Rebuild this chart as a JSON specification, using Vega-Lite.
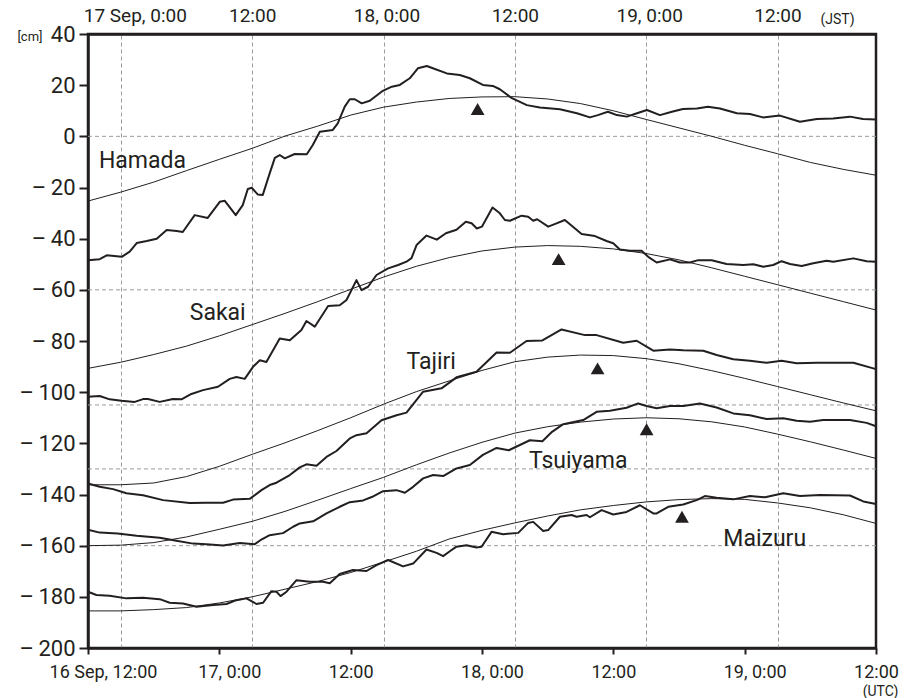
{
"$schema": "https://vega.github.io/schema/vega-lite/v6.json",
"width": 788, "height": 614,
"autosize": "none",
"padding": {"left": 88, "top": 34, "right": 29, "bottom": 50},
"background": "white",
"config": {"view": {"stroke": "#231f20", "strokeWidth": 2.5}, "font": "Roboto"},
"datasets": {
"ref": [{"v": 0}, {"v": -60}, {"v": -105}, {"v": -130}, {"v": -160}],
"tri": [{"s": "Hamada", "h": 35.6, "v": 10.7}, {"s": "Sakai", "h": 43.0, "v": -48}, {"s": "Tajiri", "h": 46.56, "v": -90.7}, {"s": "Tsuiyama", "h": 51.04, "v": -114.5}, {"s": "Maizuru", "h": 54.27, "v": -148.7}],
"lab": [{"s": "Hamada", "h": 1.0, "v": -12.4}, {"s": "Sakai", "h": 9.3, "v": -71.8}, {"s": "Tajiri", "h": 29.1, "v": -91.1}, {"s": "Tsuiyama", "h": 40.3, "v": -129.6}, {"s": "Maizuru", "h": 58.05, "v": -160.2}],
"fit": [
{"s":"Hamada","h":0,"v":-25.3},{"s":"Hamada","h":3,"v":-21.8},{"s":"Hamada","h":6,"v":-17.9},{"s":"Hamada","h":9,"v":-13.4},{"s":"Hamada","h":12,"v":-9},{"s":"Hamada","h":15,"v":-4.7},{"s":"Hamada","h":18,"v":0.1},{"s":"Hamada","h":21,"v":4},{"s":"Hamada","h":24,"v":8.3},{"s":"Hamada","h":27,"v":11.4},{"s":"Hamada","h":30,"v":13.4},{"s":"Hamada","h":33,"v":14.8},{"s":"Hamada","h":36,"v":15.4},{"s":"Hamada","h":39,"v":15.5},{"s":"Hamada","h":42,"v":14.6},{"s":"Hamada","h":45,"v":12.8},{"s":"Hamada","h":48,"v":10},{"s":"Hamada","h":51,"v":6.6},{"s":"Hamada","h":54,"v":3.3},{"s":"Hamada","h":57,"v":0},{"s":"Hamada","h":60,"v":-3.5},{"s":"Hamada","h":63,"v":-6.8},{"s":"Hamada","h":66,"v":-10.2},{"s":"Hamada","h":69,"v":-12.9},{"s":"Hamada","h":72,"v":-15.2},
{"s":"Sakai","h":0,"v":-90.7},{"s":"Sakai","h":3,"v":-88.3},{"s":"Sakai","h":6,"v":-85.3},{"s":"Sakai","h":9,"v":-82},{"s":"Sakai","h":12,"v":-78},{"s":"Sakai","h":15,"v":-73.6},{"s":"Sakai","h":18,"v":-69.2},{"s":"Sakai","h":21,"v":-64.6},{"s":"Sakai","h":24,"v":-59.8},{"s":"Sakai","h":27,"v":-55},{"s":"Sakai","h":30,"v":-50.8},{"s":"Sakai","h":33,"v":-47.4},{"s":"Sakai","h":36,"v":-44.8},{"s":"Sakai","h":39,"v":-43.3},{"s":"Sakai","h":42,"v":-42.7},{"s":"Sakai","h":45,"v":-43},{"s":"Sakai","h":48,"v":-44},{"s":"Sakai","h":51,"v":-45.8},{"s":"Sakai","h":54,"v":-48.3},{"s":"Sakai","h":57,"v":-51.4},{"s":"Sakai","h":60,"v":-54.7},{"s":"Sakai","h":63,"v":-58},{"s":"Sakai","h":66,"v":-61.3},{"s":"Sakai","h":69,"v":-64.6},{"s":"Sakai","h":72,"v":-67.9},
{"s":"Tajiri","h":0,"v":-136.2},{"s":"Tajiri","h":3,"v":-136.2},{"s":"Tajiri","h":6,"v":-135.5},{"s":"Tajiri","h":9,"v":-133},{"s":"Tajiri","h":12,"v":-129},{"s":"Tajiri","h":15,"v":-124.3},{"s":"Tajiri","h":18,"v":-119.8},{"s":"Tajiri","h":21,"v":-115},{"s":"Tajiri","h":24,"v":-110},{"s":"Tajiri","h":27,"v":-104.7},{"s":"Tajiri","h":30,"v":-99.8},{"s":"Tajiri","h":33,"v":-95.6},{"s":"Tajiri","h":36,"v":-91.5},{"s":"Tajiri","h":39,"v":-88.1},{"s":"Tajiri","h":42,"v":-86.3},{"s":"Tajiri","h":45,"v":-85.5},{"s":"Tajiri","h":48,"v":-85.7},{"s":"Tajiri","h":51,"v":-86.9},{"s":"Tajiri","h":54,"v":-88.9},{"s":"Tajiri","h":57,"v":-91.6},{"s":"Tajiri","h":60,"v":-94.6},{"s":"Tajiri","h":63,"v":-97.8},{"s":"Tajiri","h":66,"v":-101},{"s":"Tajiri","h":69,"v":-104.2},{"s":"Tajiri","h":72,"v":-107.3},
{"s":"Tsuiyama","h":0,"v":-160},{"s":"Tsuiyama","h":3,"v":-159.8},{"s":"Tsuiyama","h":6,"v":-158.8},{"s":"Tsuiyama","h":9,"v":-156.6},{"s":"Tsuiyama","h":12,"v":-153.6},{"s":"Tsuiyama","h":15,"v":-150.5},{"s":"Tsuiyama","h":18,"v":-146.6},{"s":"Tsuiyama","h":21,"v":-142.2},{"s":"Tsuiyama","h":24,"v":-137.7},{"s":"Tsuiyama","h":27,"v":-133.3},{"s":"Tsuiyama","h":30,"v":-128.4},{"s":"Tsuiyama","h":33,"v":-123.8},{"s":"Tsuiyama","h":36,"v":-119.6},{"s":"Tsuiyama","h":39,"v":-116},{"s":"Tsuiyama","h":42,"v":-113.5},{"s":"Tsuiyama","h":45,"v":-111.7},{"s":"Tsuiyama","h":48,"v":-110.5},{"s":"Tsuiyama","h":51,"v":-110},{"s":"Tsuiyama","h":54,"v":-110.4},{"s":"Tsuiyama","h":57,"v":-111.6},{"s":"Tsuiyama","h":60,"v":-113.6},{"s":"Tsuiyama","h":63,"v":-116.4},{"s":"Tsuiyama","h":66,"v":-119.4},{"s":"Tsuiyama","h":69,"v":-122.6},{"s":"Tsuiyama","h":72,"v":-125.9},
{"s":"Maizuru","h":0,"v":-185.5},{"s":"Maizuru","h":3,"v":-185.5},{"s":"Maizuru","h":6,"v":-185},{"s":"Maizuru","h":9,"v":-184.2},{"s":"Maizuru","h":12,"v":-182.4},{"s":"Maizuru","h":15,"v":-180},{"s":"Maizuru","h":18,"v":-177},{"s":"Maizuru","h":21,"v":-174},{"s":"Maizuru","h":24,"v":-170.5},{"s":"Maizuru","h":27,"v":-166.4},{"s":"Maizuru","h":30,"v":-162.2},{"s":"Maizuru","h":33,"v":-157.4},{"s":"Maizuru","h":36,"v":-154},{"s":"Maizuru","h":39,"v":-151.1},{"s":"Maizuru","h":42,"v":-148.4},{"s":"Maizuru","h":45,"v":-146},{"s":"Maizuru","h":48,"v":-144.3},{"s":"Maizuru","h":51,"v":-142.9},{"s":"Maizuru","h":54,"v":-142},{"s":"Maizuru","h":57,"v":-141.6},{"s":"Maizuru","h":60,"v":-141.9},{"s":"Maizuru","h":63,"v":-143.3},{"s":"Maizuru","h":66,"v":-145.2},{"s":"Maizuru","h":69,"v":-147.9},{"s":"Maizuru","h":72,"v":-151.3}
],
"obs": [
{"s":"Hamada","h":0,"v":-48.4},{"s":"Hamada","h":1.07,"v":-48},{"s":"Hamada","h":1.71,"v":-46.5},{"s":"Hamada","h":2.62,"v":-46.9},{"s":"Hamada","h":3.08,"v":-47.1},{"s":"Hamada","h":3.81,"v":-45.1},{"s":"Hamada","h":4.45,"v":-41.7},{"s":"Hamada","h":5.37,"v":-40.9},{"s":"Hamada","h":6.28,"v":-40},{"s":"Hamada","h":7.19,"v":-36.6},{"s":"Hamada","h":8.11,"v":-37},{"s":"Hamada","h":8.66,"v":-37.4},{"s":"Hamada","h":9.75,"v":-30.8},{"s":"Hamada","h":10.94,"v":-31.9},{"s":"Hamada","h":12.04,"v":-25.6},{"s":"Hamada","h":12.5,"v":-25.2},{"s":"Hamada","h":13.5,"v":-30.8},{"s":"Hamada","h":14.14,"v":-26.9},{"s":"Hamada","h":14.6,"v":-20.6},{"s":"Hamada","h":14.96,"v":-20.1},{"s":"Hamada","h":15.5,"v":-22.7},{"s":"Hamada","h":15.97,"v":-22.9},{"s":"Hamada","h":16.6,"v":-14.5},{"s":"Hamada","h":17.07,"v":-8.4},{"s":"Hamada","h":17.52,"v":-7.3},{"s":"Hamada","h":17.98,"v":-8.6},{"s":"Hamada","h":18.89,"v":-6.9},{"s":"Hamada","h":19.99,"v":-7},{"s":"Hamada","h":20.54,"v":-3.4},{"s":"Hamada","h":21.18,"v":1.8},{"s":"Hamada","h":22.37,"v":2.5},{"s":"Hamada","h":22.82,"v":5.1},{"s":"Hamada","h":23.46,"v":11.6},{"s":"Hamada","h":23.92,"v":14.5},{"s":"Hamada","h":24.38,"v":14.5},{"s":"Hamada","h":25.01,"v":12.9},{"s":"Hamada","h":25.75,"v":13.9},{"s":"Hamada","h":26.94,"v":17.8},{"s":"Hamada","h":27.76,"v":19.4},{"s":"Hamada","h":28.49,"v":20.1},{"s":"Hamada","h":29.4,"v":22.7},{"s":"Hamada","h":30.14,"v":26.6},{"s":"Hamada","h":30.96,"v":27.5},{"s":"Hamada","h":31.51,"v":26.6},{"s":"Hamada","h":32.79,"v":24.6},{"s":"Hamada","h":33.97,"v":24},{"s":"Hamada","h":34.89,"v":22.7},{"s":"Hamada","h":36.08,"v":20.1},{"s":"Hamada","h":36.99,"v":19.7},{"s":"Hamada","h":37.63,"v":18.4},{"s":"Hamada","h":38.73,"v":14.9},{"s":"Hamada","h":40.1,"v":12.2},{"s":"Hamada","h":41.29,"v":11.3},{"s":"Hamada","h":43.12,"v":10.6},{"s":"Hamada","h":44.67,"v":9},{"s":"Hamada","h":45.86,"v":7.4},{"s":"Hamada","h":46.59,"v":8.3},{"s":"Hamada","h":47.5,"v":9.6},{"s":"Hamada","h":48.33,"v":8.3},{"s":"Hamada","h":49.24,"v":7.7},{"s":"Hamada","h":50.16,"v":9},{"s":"Hamada","h":51.07,"v":10.3},{"s":"Hamada","h":52.26,"v":8.3},{"s":"Hamada","h":53.35,"v":9.6},{"s":"Hamada","h":54.36,"v":10.7},{"s":"Hamada","h":55.64,"v":10.9},{"s":"Hamada","h":56.64,"v":11.6},{"s":"Hamada","h":57.74,"v":10.9},{"s":"Hamada","h":59.29,"v":9},{"s":"Hamada","h":60.48,"v":8.7},{"s":"Hamada","h":61.67,"v":7.4},{"s":"Hamada","h":63.22,"v":8.1},{"s":"Hamada","h":65.05,"v":5.7},{"s":"Hamada","h":66.6,"v":6.8},{"s":"Hamada","h":68.07,"v":7},{"s":"Hamada","h":69.62,"v":7.7},{"s":"Hamada","h":70.81,"v":6.8},{"s":"Hamada","h":72,"v":6.6},
{"s":"Sakai","h":0,"v":-101.8},{"s":"Sakai","h":1.07,"v":-101.5},{"s":"Sakai","h":1.98,"v":-102.8},{"s":"Sakai","h":3.05,"v":-103.4},{"s":"Sakai","h":4.27,"v":-103.8},{"s":"Sakai","h":5.03,"v":-102.7},{"s":"Sakai","h":5.48,"v":-102.7},{"s":"Sakai","h":6.55,"v":-103.8},{"s":"Sakai","h":7.77,"v":-102.7},{"s":"Sakai","h":8.54,"v":-102.8},{"s":"Sakai","h":9.45,"v":-100.7},{"s":"Sakai","h":10.51,"v":-99.2},{"s":"Sakai","h":11.88,"v":-97.9},{"s":"Sakai","h":12.95,"v":-94.8},{"s":"Sakai","h":13.56,"v":-94.1},{"s":"Sakai","h":14.32,"v":-94.8},{"s":"Sakai","h":15.08,"v":-90.1},{"s":"Sakai","h":15.7,"v":-87.5},{"s":"Sakai","h":16.3,"v":-88.2},{"s":"Sakai","h":17.52,"v":-79},{"s":"Sakai","h":18.44,"v":-79.7},{"s":"Sakai","h":19.5,"v":-75.7},{"s":"Sakai","h":19.96,"v":-72.2},{"s":"Sakai","h":20.72,"v":-74.4},{"s":"Sakai","h":21.94,"v":-66.3},{"s":"Sakai","h":23,"v":-66},{"s":"Sakai","h":23.62,"v":-64},{"s":"Sakai","h":24.53,"v":-56.2},{"s":"Sakai","h":24.99,"v":-60.1},{"s":"Sakai","h":25.59,"v":-58.8},{"s":"Sakai","h":26.36,"v":-54.2},{"s":"Sakai","h":27.42,"v":-51.6},{"s":"Sakai","h":28.34,"v":-50.3},{"s":"Sakai","h":29.1,"v":-49},{"s":"Sakai","h":29.56,"v":-47.6},{"s":"Sakai","h":30.02,"v":-42.5},{"s":"Sakai","h":30.93,"v":-38.8},{"s":"Sakai","h":31.87,"v":-40.4},{"s":"Sakai","h":32.7,"v":-37.9},{"s":"Sakai","h":33.67,"v":-36.5},{"s":"Sakai","h":34.52,"v":-33.4},{"s":"Sakai","h":35.05,"v":-34},{"s":"Sakai","h":35.53,"v":-36},{"s":"Sakai","h":35.99,"v":-35.3},{"s":"Sakai","h":36.96,"v":-27.8},{"s":"Sakai","h":37.63,"v":-30.1},{"s":"Sakai","h":38.09,"v":-32.7},{"s":"Sakai","h":38.55,"v":-33},{"s":"Sakai","h":39.62,"v":-31},{"s":"Sakai","h":40.22,"v":-31.4},{"s":"Sakai","h":40.68,"v":-33},{"s":"Sakai","h":41.04,"v":-32.4},{"s":"Sakai","h":42.05,"v":-35.3},{"s":"Sakai","h":42.81,"v":-34},{"s":"Sakai","h":43.57,"v":-32.7},{"s":"Sakai","h":45.1,"v":-38.2},{"s":"Sakai","h":46.32,"v":-39},{"s":"Sakai","h":47.38,"v":-40.9},{"s":"Sakai","h":47.99,"v":-41.8},{"s":"Sakai","h":48.6,"v":-44.2},{"s":"Sakai","h":49.52,"v":-44.7},{"s":"Sakai","h":50.58,"v":-44.7},{"s":"Sakai","h":51.19,"v":-47.1},{"s":"Sakai","h":51.96,"v":-49.3},{"s":"Sakai","h":53.17,"v":-48.1},{"s":"Sakai","h":54.09,"v":-49.3},{"s":"Sakai","h":55,"v":-49.3},{"s":"Sakai","h":55.76,"v":-48.4},{"s":"Sakai","h":56.98,"v":-48.4},{"s":"Sakai","h":58.35,"v":-49.9},{"s":"Sakai","h":59.87,"v":-50.3},{"s":"Sakai","h":60.79,"v":-50},{"s":"Sakai","h":61.7,"v":-51},{"s":"Sakai","h":62.61,"v":-50.3},{"s":"Sakai","h":63.38,"v":-48.8},{"s":"Sakai","h":64.14,"v":-49.9},{"s":"Sakai","h":65.21,"v":-50.7},{"s":"Sakai","h":66.27,"v":-49.6},{"s":"Sakai","h":67.49,"v":-48.6},{"s":"Sakai","h":68.1,"v":-49},{"s":"Sakai","h":69.93,"v":-47.7},{"s":"Sakai","h":71.15,"v":-48.8},{"s":"Sakai","h":72,"v":-49},
{"s":"Tajiri","h":0,"v":-135.7},{"s":"Tajiri","h":1.07,"v":-137},{"s":"Tajiri","h":2.29,"v":-137.9},{"s":"Tajiri","h":3.51,"v":-139.5},{"s":"Tajiri","h":5.03,"v":-140.3},{"s":"Tajiri","h":6.86,"v":-142.2},{"s":"Tajiri","h":9.3,"v":-143.3},{"s":"Tajiri","h":10.82,"v":-143.2},{"s":"Tajiri","h":12.34,"v":-143.2},{"s":"Tajiri","h":13.25,"v":-142},{"s":"Tajiri","h":14.78,"v":-141.7},{"s":"Tajiri","h":15.85,"v":-138.3},{"s":"Tajiri","h":16.6,"v":-136.3},{"s":"Tajiri","h":17.22,"v":-135.4},{"s":"Tajiri","h":18.44,"v":-132.4},{"s":"Tajiri","h":19.35,"v":-129.4},{"s":"Tajiri","h":19.96,"v":-128.2},{"s":"Tajiri","h":20.88,"v":-128.8},{"s":"Tajiri","h":21.79,"v":-125.3},{"s":"Tajiri","h":22.7,"v":-123},{"s":"Tajiri","h":23.92,"v":-118.1},{"s":"Tajiri","h":24.53,"v":-116.8},{"s":"Tajiri","h":25.45,"v":-116.1},{"s":"Tajiri","h":26.82,"v":-111},{"s":"Tajiri","h":28.19,"v":-109},{"s":"Tajiri","h":29.1,"v":-108},{"s":"Tajiri","h":30.62,"v":-99.8},{"s":"Tajiri","h":32.3,"v":-98.5},{"s":"Tajiri","h":33.67,"v":-94.2},{"s":"Tajiri","h":35.5,"v":-92},{"s":"Tajiri","h":37.33,"v":-84.5},{"s":"Tajiri","h":38.55,"v":-84.6},{"s":"Tajiri","h":40.07,"v":-80},{"s":"Tajiri","h":41.52,"v":-79.8},{"s":"Tajiri","h":43.27,"v":-75.5},{"s":"Tajiri","h":45.4,"v":-77.7},{"s":"Tajiri","h":46.47,"v":-77.7},{"s":"Tajiri","h":48.9,"v":-80.7},{"s":"Tajiri","h":50.13,"v":-79.9},{"s":"Tajiri","h":51.65,"v":-83.8},{"s":"Tajiri","h":53.17,"v":-83.3},{"s":"Tajiri","h":54.39,"v":-83.6},{"s":"Tajiri","h":56.22,"v":-83.8},{"s":"Tajiri","h":57.44,"v":-85.5},{"s":"Tajiri","h":58.96,"v":-87.1},{"s":"Tajiri","h":60.48,"v":-87.7},{"s":"Tajiri","h":62.01,"v":-88.5},{"s":"Tajiri","h":63.38,"v":-87.7},{"s":"Tajiri","h":64.75,"v":-88.7},{"s":"Tajiri","h":66.58,"v":-88.5},{"s":"Tajiri","h":69.93,"v":-88.5},{"s":"Tajiri","h":72,"v":-91},
{"s":"Tsuiyama","h":0,"v":-153.8},{"s":"Tsuiyama","h":1.07,"v":-154.9},{"s":"Tsuiyama","h":2.71,"v":-155.2},{"s":"Tsuiyama","h":4.45,"v":-156.1},{"s":"Tsuiyama","h":6.55,"v":-156.9},{"s":"Tsuiyama","h":8.08,"v":-158.1},{"s":"Tsuiyama","h":9.6,"v":-159.2},{"s":"Tsuiyama","h":10.82,"v":-159.4},{"s":"Tsuiyama","h":12.34,"v":-159.9},{"s":"Tsuiyama","h":13.87,"v":-159},{"s":"Tsuiyama","h":15.24,"v":-159.4},{"s":"Tsuiyama","h":15.88,"v":-157.5},{"s":"Tsuiyama","h":16.6,"v":-155.9},{"s":"Tsuiyama","h":17.82,"v":-155.1},{"s":"Tsuiyama","h":18.74,"v":-152.6},{"s":"Tsuiyama","h":19.35,"v":-151.3},{"s":"Tsuiyama","h":20.57,"v":-150.5},{"s":"Tsuiyama","h":21.79,"v":-147.4},{"s":"Tsuiyama","h":23,"v":-144.8},{"s":"Tsuiyama","h":23.92,"v":-143},{"s":"Tsuiyama","h":25.14,"v":-142.3},{"s":"Tsuiyama","h":25.93,"v":-141},{"s":"Tsuiyama","h":26.96,"v":-138.7},{"s":"Tsuiyama","h":28.19,"v":-138.3},{"s":"Tsuiyama","h":28.95,"v":-139.3},{"s":"Tsuiyama","h":29.71,"v":-137},{"s":"Tsuiyama","h":30.62,"v":-133.7},{"s":"Tsuiyama","h":31.54,"v":-132.4},{"s":"Tsuiyama","h":32.45,"v":-132.8},{"s":"Tsuiyama","h":33.67,"v":-129.8},{"s":"Tsuiyama","h":34.89,"v":-128.5},{"s":"Tsuiyama","h":36.08,"v":-124.5},{"s":"Tsuiyama","h":37.33,"v":-121.8},{"s":"Tsuiyama","h":38.45,"v":-122.7},{"s":"Tsuiyama","h":40.37,"v":-118.8},{"s":"Tsuiyama","h":41.52,"v":-119.2},{"s":"Tsuiyama","h":42.4,"v":-115.5},{"s":"Tsuiyama","h":43.42,"v":-112.5},{"s":"Tsuiyama","h":45.25,"v":-110.9},{"s":"Tsuiyama","h":46.47,"v":-107.7},{"s":"Tsuiyama","h":47.69,"v":-107.3},{"s":"Tsuiyama","h":49.21,"v":-106.1},{"s":"Tsuiyama","h":50.27,"v":-104.4},{"s":"Tsuiyama","h":51.04,"v":-105.4},{"s":"Tsuiyama","h":51.96,"v":-106.3},{"s":"Tsuiyama","h":53.17,"v":-105.4},{"s":"Tsuiyama","h":54.39,"v":-105.4},{"s":"Tsuiyama","h":55.91,"v":-104.4},{"s":"Tsuiyama","h":57.44,"v":-106},{"s":"Tsuiyama","h":58.96,"v":-108.3},{"s":"Tsuiyama","h":60.48,"v":-109},{"s":"Tsuiyama","h":62.01,"v":-110.5},{"s":"Tsuiyama","h":63.53,"v":-110.2},{"s":"Tsuiyama","h":64.75,"v":-111.2},{"s":"Tsuiyama","h":65.97,"v":-111.6},{"s":"Tsuiyama","h":67.18,"v":-110.9},{"s":"Tsuiyama","h":69.62,"v":-110.9},{"s":"Tsuiyama","h":71.15,"v":-112},{"s":"Tsuiyama","h":72,"v":-113.3},
{"s":"Maizuru","h":0,"v":-178},{"s":"Maizuru","h":0.77,"v":-179.3},{"s":"Maizuru","h":1.98,"v":-179.6},{"s":"Maizuru","h":3.51,"v":-180.6},{"s":"Maizuru","h":5.03,"v":-180.4},{"s":"Maizuru","h":6.55,"v":-180.9},{"s":"Maizuru","h":7.47,"v":-182.3},{"s":"Maizuru","h":8.68,"v":-182.6},{"s":"Maizuru","h":9.91,"v":-183.9},{"s":"Maizuru","h":11.43,"v":-183.2},{"s":"Maizuru","h":12.65,"v":-182.8},{"s":"Maizuru","h":13.56,"v":-181.3},{"s":"Maizuru","h":14.48,"v":-180.6},{"s":"Maizuru","h":15.39,"v":-182.8},{"s":"Maizuru","h":16,"v":-182.3},{"s":"Maizuru","h":16.76,"v":-177.8},{"s":"Maizuru","h":17.22,"v":-178},{"s":"Maizuru","h":17.59,"v":-179.7},{"s":"Maizuru","h":18.14,"v":-178},{"s":"Maizuru","h":19.05,"v":-173.5},{"s":"Maizuru","h":20.27,"v":-174.1},{"s":"Maizuru","h":21.48,"v":-174.1},{"s":"Maizuru","h":22.09,"v":-174.7},{"s":"Maizuru","h":23,"v":-171.1},{"s":"Maizuru","h":24.22,"v":-169.5},{"s":"Maizuru","h":25.45,"v":-169.9},{"s":"Maizuru","h":26.36,"v":-167.6},{"s":"Maizuru","h":27.42,"v":-165.6},{"s":"Maizuru","h":28.79,"v":-168.1},{"s":"Maizuru","h":29.71,"v":-167},{"s":"Maizuru","h":30.93,"v":-161.5},{"s":"Maizuru","h":31.85,"v":-162.8},{"s":"Maizuru","h":32.45,"v":-164.1},{"s":"Maizuru","h":33.06,"v":-162.2},{"s":"Maizuru","h":33.67,"v":-160.4},{"s":"Maizuru","h":34.59,"v":-159.8},{"s":"Maizuru","h":35.5,"v":-160.7},{"s":"Maizuru","h":35.96,"v":-160.4},{"s":"Maizuru","h":36.87,"v":-154.6},{"s":"Maizuru","h":37.93,"v":-155.5},{"s":"Maizuru","h":39.31,"v":-155},{"s":"Maizuru","h":40.22,"v":-151.1},{"s":"Maizuru","h":40.68,"v":-150.7},{"s":"Maizuru","h":41.59,"v":-154.3},{"s":"Maizuru","h":42.05,"v":-153.9},{"s":"Maizuru","h":43.12,"v":-148.7},{"s":"Maizuru","h":44.19,"v":-148},{"s":"Maizuru","h":44.64,"v":-148.7},{"s":"Maizuru","h":45.56,"v":-148},{"s":"Maizuru","h":45.86,"v":-148.9},{"s":"Maizuru","h":46.93,"v":-146.1},{"s":"Maizuru","h":47.99,"v":-147.8},{"s":"Maizuru","h":49.21,"v":-146.8},{"s":"Maizuru","h":50.43,"v":-144.2},{"s":"Maizuru","h":51.65,"v":-147.4},{"s":"Maizuru","h":51.96,"v":-147.4},{"s":"Maizuru","h":53.02,"v":-144.8},{"s":"Maizuru","h":54.39,"v":-143.9},{"s":"Maizuru","h":55.61,"v":-142.2},{"s":"Maizuru","h":56.37,"v":-140.6},{"s":"Maizuru","h":57.44,"v":-141.3},{"s":"Maizuru","h":58.96,"v":-141.9},{"s":"Maizuru","h":60.48,"v":-140.6},{"s":"Maizuru","h":61.86,"v":-141.1},{"s":"Maizuru","h":63.53,"v":-139.5},{"s":"Maizuru","h":65.05,"v":-140.6},{"s":"Maizuru","h":66.88,"v":-140.2},{"s":"Maizuru","h":69.62,"v":-140.4},{"s":"Maizuru","h":70.84,"v":-142.7},{"s":"Maizuru","h":72,"v":-143.7}
]
},
"layer": [
{
"data": {"name": "ref"},
"mark": {"type": "rule", "color": "#9a9a9a", "strokeDash": [4, 3], "strokeWidth": 1},
"encoding": {
"y": {"field": "v", "type": "quantitative", "scale": {"domain": [-200, 40], "nice": false, "zero": false},
"axis": {"title": "[cm]", "titleAngle": 0, "titleAlign": "right", "titleBaseline": "alphabetic", "titleX": -46, "titleY": 6, "titleFontSize": 13, "titleFontWeight": "normal", "titleColor": "#231f20", "titleFont": "Roboto",
"values": [-200, -180, -160, -140, -120, -100, -80, -60, -40, -20, 0, 20, 40],
"labelExpr": "datum.value < 0 ? '\u2013\u2009' + format(-datum.value, 'd') : format(datum.value, 'd')",
"labelFontSize": 22, "labelColor": "#231f20", "labelFont": "Roboto", "labelPadding": 4, "labelFlush": false, "labelOverlap": false,
"tickSize": 9, "tickWidth": 2, "tickColor": "#231f20", "domainColor": "#231f20", "domainWidth": 2.5, "grid": false}}
}
},
{
"data": {"name": "fit"},
"mark": {"type": "line", "color": "#231f20", "strokeWidth": 1},
"encoding": {
"x": {"field": "h", "type": "quantitative", "scale": {"domain": [0, 72], "nice": false, "zero": false},
"axis": {"orient": "bottom", "values": [0, 12, 24, 36, 48, 60, 72],
"labelExpr": "datum.value == 0 ? '16 Sep, 12:00' : datum.value == 12 ? '17, 0:00' : datum.value == 36 ? '18, 0:00' : datum.value == 60 ? '19, 0:00' : '12:00'",
"labelFlush": false, "labelOverlap": false, "labelBound": false, "labelFontSize": 18, "labelColor": "#231f20", "labelFont": "Roboto", "labelPadding": 9,
"labelOffset": {"condition": [{"test": "datum.value == 0", "value": 15}, {"test": "datum.value == 12 || datum.value == 36 || datum.value == 60", "value": 10}], "value": 0},
"tickSize": 6, "tickWidth": 2, "tickColor": "#231f20", "domainColor": "#231f20", "domainWidth": 2.5, "grid": false,
"title": "(UTC)", "titleX": 810, "titleY": 47, "titleAlign": "right", "titleBaseline": "alphabetic", "titleFontSize": 14, "titleFontWeight": "normal", "titleColor": "#231f20", "titleFont": "Roboto"}},
"y": {"field": "v", "type": "quantitative"},
"detail": {"field": "s", "type": "nominal"}
}
},
{
"data": {"name": "obs"},
"mark": {"type": "line", "color": "#231f20", "strokeWidth": 2, "strokeJoin": "round"},
"encoding": {
"x": {"field": "h", "type": "quantitative", "axis": null},
"y": {"field": "v", "type": "quantitative"},
"detail": {"field": "s", "type": "nominal"}
}
},
{
"data": {"name": "tri"},
"mark": {"type": "point", "shape": "triangle-up", "filled": true, "size": 190, "color": "#231f20", "opacity": 1},
"encoding": {
"x": {"field": "h", "type": "quantitative",
"axis": {"orient": "top", "values": [3, 15, 27, 39, 51, 63],
"labelExpr": "datum.value == 3 ? '17 Sep, 0:00' : datum.value == 27 ? '18, 0:00' : datum.value == 51 ? '19, 0:00' : '12:00'",
"labelFlush": false, "labelOverlap": false, "labelBound": false, "labelFontSize": 19, "labelColor": "#231f20", "labelFont": "Roboto", "labelPadding": 9,
"labelOffset": {"condition": [{"test": "datum.value == 3", "value": 14}, {"test": "datum.value == 27 || datum.value == 51", "value": 3}], "value": 0},
"ticks": false, "domainColor": "#231f20", "domainWidth": 2.5,
"grid": true, "gridColor": "#9a9a9a", "gridDash": [4, 3], "gridWidth": 1,
"title": "(JST)", "titleX": 732, "titleY": -11, "titleAlign": "left", "titleBaseline": "alphabetic", "titleFontSize": 14, "titleFontWeight": "normal", "titleColor": "#231f20", "titleFont": "Roboto"}},
"y": {"field": "v", "type": "quantitative"}
}
},
{
"data": {"name": "lab"},
"mark": {"type": "text", "align": "left", "baseline": "alphabetic", "fontSize": 23, "font": "Roboto", "color": "#231f20"},
"encoding": {
"x": {"field": "h", "type": "quantitative", "axis": null},
"y": {"field": "v", "type": "quantitative"},
"text": {"field": "s", "type": "nominal"}
}
}
],
"resolve": {"axis": {"x": "independent"}}
}
